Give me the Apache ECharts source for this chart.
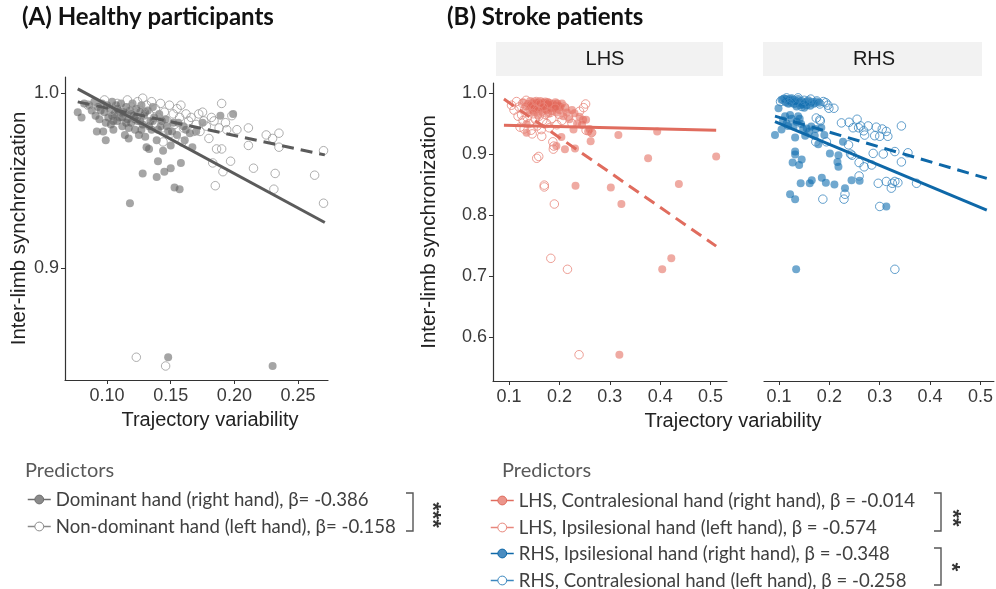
<!DOCTYPE html>
<html>
<head>
<meta charset="utf-8">
<script src="https://cdn.jsdelivr.net/npm/echarts@6/dist/echarts.min.js"></script>
<style>
  html, body { margin: 0; padding: 0; background: #fff; }
  #chart { width: 996px; height: 589px; }
</style>
</head>
<body>
<div id="chart"></div>
<script>
// ---- data ----
var healthyXTicks = [0.10, 0.15, 0.20, 0.25];
var healthyYTicks = [0.9, 1.0];
var strokeXTicks = [0.1, 0.2, 0.3, 0.4, 0.5];
var strokeYTicks = [0.6, 0.7, 0.8, 0.9, 1.0];

var legendHealthy = ['Dominant hand (right hand), β= -0.386', 'Non-dominant hand (left hand), β= -0.158'];
var legendStroke = [
  'LHS, Contralesional hand (right hand), β = -0.014',
  'LHS, Ipsilesional hand (left hand), β = -0.574',
  'RHS, Ipsilesional hand (right hand), β = -0.348',
  'RHS, Contralesional hand (left hand), β = -0.258'
];

// healthy, dominant hand (filled)
var healthyDom = [
  [0.077,0.989],[0.080,0.986],[0.082,0.994],[0.086,0.993],[0.088,0.990],[0.090,0.995],[0.091,0.987],[0.092,0.978],
  [0.093,0.992],[0.094,0.985],[0.096,0.994],[0.097,0.978],[0.098,0.989],[0.099,0.973],[0.100,0.993],[0.101,0.986],
  [0.102,0.991],[0.103,0.982],[0.104,0.995],[0.105,0.979],[0.106,0.988],[0.107,0.993],[0.108,0.984],[0.109,0.990],
  [0.110,0.986],[0.111,0.994],[0.112,0.981],[0.113,0.989],[0.114,0.976],[0.115,0.992],[0.116,0.985],[0.117,0.974],
  [0.118,0.990],[0.118,0.937],[0.119,0.983],[0.120,0.994],[0.121,0.987],[0.122,0.979],[0.123,0.991],[0.124,0.984],
  [0.125,0.976],[0.126,0.989],[0.127,0.993],[0.128,0.954],[0.128,0.982],[0.129,0.987],[0.130,0.975],[0.131,0.969],
  [0.132,0.990],[0.133,0.968],[0.134,0.984],[0.135,0.979],[0.136,0.992],[0.137,0.986],[0.139,0.973],[0.139,0.952],
  [0.140,0.961],[0.141,0.988],[0.142,0.981],[0.144,0.967],[0.145,0.955],[0.146,0.985],[0.148,0.849],[0.148,0.978],
  [0.150,0.970],[0.150,0.957],[0.152,0.983],[0.153,0.946],[0.155,0.976],[0.157,0.945],[0.158,0.960],[0.160,0.981],
  [0.161,0.973],[0.165,0.977],[0.167,0.969],[0.175,0.983],[0.189,0.987],[0.199,0.988],[0.230,0.844],
  [0.095,0.990],[0.099,0.983],[0.104,0.987],[0.108,0.991],[0.112,0.986],[0.115,0.983],[0.119,0.988],[0.122,0.985],
  [0.126,0.984],[0.130,0.989],[0.133,0.981],[0.136,0.984],[0.140,0.979],[0.143,0.984],[0.147,0.981],[0.151,0.978],
  [0.156,0.983],[0.162,0.979],[0.170,0.978],[0.105,0.984],[0.117,0.980],[0.127,0.979]
];
// healthy, non-dominant hand (open)
var healthyNonDom = [
  [0.085,0.993],[0.092,0.991],[0.098,0.996],[0.103,0.990],[0.108,0.994],[0.112,0.988],[0.116,0.996],[0.119,0.992],
  [0.122,0.986],[0.124,0.995],[0.126,0.990],[0.128,0.997],[0.130,0.984],[0.131,0.993],[0.133,0.988],[0.135,0.995],
  [0.137,0.982],[0.138,0.991],[0.140,0.986],[0.142,0.994],[0.143,0.980],[0.144,0.972],[0.145,0.989],[0.146,0.844],
  [0.147,0.984],[0.149,0.993],[0.150,0.977],[0.152,0.988],[0.153,0.982],[0.155,0.991],[0.157,0.986],[0.158,0.993],
  [0.159,0.972],[0.160,0.980],[0.162,0.988],[0.164,0.984],[0.166,0.986],[0.168,0.978],[0.170,0.982],[0.172,0.988],
  [0.173,0.978],[0.175,0.989],[0.176,0.984],[0.178,0.981],[0.180,0.974],[0.182,0.986],[0.183,0.960],[0.184,0.984],
  [0.185,0.947],[0.186,0.968],[0.188,0.980],[0.190,0.968],[0.190,0.994],[0.191,0.955],[0.193,0.983],[0.194,0.979],
  [0.197,0.961],[0.198,0.987],[0.202,0.979],[0.211,0.970],[0.211,0.980],[0.215,0.957],[0.225,0.976],[0.230,0.974],
  [0.231,0.945],[0.232,0.954],[0.235,0.977],[0.235,0.969],[0.123,0.849],[0.263,0.953],[0.270,0.967],[0.270,0.937]
];
// LHS, contralesional hand (filled)
var lhsContra = [
  [0.128,0.985],[0.133,0.978],[0.135,0.949],[0.135,0.935],[0.138,0.982],[0.140,0.972],[0.142,0.987],[0.145,0.976],
  [0.147,0.983],[0.149,0.968],[0.150,0.986],[0.152,0.979],[0.154,0.973],[0.156,0.985],[0.158,0.963],[0.160,0.980],
  [0.162,0.987],[0.164,0.975],[0.166,0.969],[0.168,0.984],[0.170,0.978],[0.172,0.986],[0.174,0.972],[0.176,0.981],
  [0.178,0.966],[0.180,0.984],[0.182,0.976],[0.185,0.970],[0.187,0.982],[0.190,0.975],[0.192,0.985],[0.194,0.913],
  [0.195,0.968],[0.198,0.979],[0.200,0.972],[0.204,0.928],[0.205,0.983],[0.208,0.962],[0.211,0.908],[0.212,0.976],
  [0.215,0.968],[0.220,0.957],[0.225,0.972],[0.228,0.940],[0.230,0.967],[0.231,0.909],[0.232,0.848],[0.235,0.950],
  [0.240,0.961],[0.245,0.948],[0.247,0.956],[0.253,0.956],[0.257,0.937],[0.260,0.941],[0.262,0.921],[0.264,0.935],
  [0.302,0.845],[0.317,0.931],[0.319,0.571],[0.323,0.818],[0.376,0.893],[0.394,0.937],[0.404,0.711],[0.422,0.729],
  [0.437,0.851],[0.511,0.896],
  [0.143,0.980],[0.151,0.975],[0.159,0.984],[0.163,0.978],[0.167,0.982],[0.171,0.974],[0.177,0.985],[0.183,0.980],
  [0.189,0.978],[0.196,0.983],[0.202,0.977],[0.148,0.971],[0.157,0.977]
];
// LHS, ipsilesional hand (open)
var lhsIpsi = [
  [0.105,0.980],[0.110,0.972],[0.115,0.986],[0.118,0.962],[0.120,0.977],[0.122,0.944],[0.125,0.964],[0.127,0.983],
  [0.128,0.955],[0.130,0.941],[0.132,0.974],[0.134,0.988],[0.136,0.960],[0.138,0.969],[0.140,0.950],[0.142,0.980],
  [0.144,0.939],[0.146,0.933],[0.148,0.966],[0.150,0.975],[0.152,0.957],[0.154,0.986],[0.155,0.893],[0.156,0.946],
  [0.158,0.971],[0.159,0.896],[0.160,0.962],[0.162,0.983],[0.164,0.940],[0.165,0.929],[0.167,0.955],[0.168,0.977],
  [0.170,0.846],[0.170,0.849],[0.172,0.965],[0.175,0.950],[0.178,0.983],[0.180,0.943],[0.182,0.968],[0.183,0.729],
  [0.185,0.958],[0.187,0.920],[0.188,0.908],[0.189,0.913],[0.190,0.818],[0.192,0.975],[0.195,0.948],[0.200,0.965],
  [0.205,0.955],[0.210,0.977],[0.216,0.711],[0.218,0.962],[0.225,0.950],[0.239,0.571],[0.240,0.970],[0.248,0.976],
  [0.252,0.982],[0.253,0.939],[0.264,0.935]
];
// RHS, ipsilesional hand (filled)
var rhsIpsi = [
  [0.105,0.989],[0.110,0.991],[0.113,0.985],[0.115,0.990],[0.118,0.983],[0.120,0.988],[0.123,0.991],[0.125,0.984],
  [0.128,0.989],[0.130,0.982],[0.133,0.987],[0.135,0.978],[0.138,0.990],[0.140,0.984],[0.142,0.980],[0.145,0.987],
  [0.148,0.981],[0.150,0.976],[0.152,0.985],[0.155,0.980],[0.158,0.988],[0.162,0.979],[0.165,0.985],[0.170,0.983],
  [0.175,0.986],[0.180,0.984],[0.099,0.975],[0.092,0.931],[0.105,0.940],[0.108,0.955],[0.112,0.962],[0.115,0.950],
  [0.118,0.946],[0.122,0.964],[0.125,0.958],[0.129,0.945],[0.132,0.927],[0.135,0.953],[0.138,0.962],[0.141,0.958],
  [0.144,0.949],[0.148,0.941],[0.152,0.930],[0.155,0.942],[0.160,0.937],[0.164,0.945],[0.171,0.930],[0.173,0.941],
  [0.178,0.916],[0.184,0.943],[0.190,0.931],[0.201,0.901],[0.216,0.887],[0.218,0.879],[0.218,0.898],[0.227,0.920],
  [0.132,0.904],[0.132,0.899],[0.127,0.886],[0.140,0.882],[0.145,0.891],[0.143,0.852],[0.161,0.852],[0.165,0.857],
  [0.185,0.861],[0.193,0.853],[0.210,0.850],[0.122,0.834],[0.132,0.826],[0.134,0.711],[0.231,0.844],[0.244,0.857],
  [0.260,0.856],[0.313,0.814]
];
// RHS, contralesional hand (open)
var rhsContra = [
  [0.103,0.986],[0.109,0.989],[0.115,0.992],[0.120,0.984],[0.126,0.990],[0.132,0.986],[0.138,0.992],[0.145,0.978],
  [0.150,0.988],[0.158,0.984],[0.163,0.990],[0.169,0.984],[0.175,0.987],[0.181,0.982],[0.188,0.986],[0.193,0.984],
  [0.197,0.980],[0.199,0.975],[0.209,0.975],[0.174,0.959],[0.181,0.956],[0.182,0.954],[0.173,0.920],[0.194,0.920],
  [0.224,0.951],[0.239,0.952],[0.255,0.957],[0.247,0.943],[0.258,0.943],[0.238,0.915],[0.242,0.900],[0.245,0.898],
  [0.259,0.886],[0.259,0.864],[0.269,0.879],[0.270,0.931],[0.277,0.946],[0.284,0.882],[0.287,0.901],[0.290,0.930],
  [0.293,0.944],[0.300,0.929],[0.300,0.814],[0.297,0.852],[0.307,0.900],[0.313,0.855],[0.313,0.937],[0.316,0.929],
  [0.323,0.844],[0.325,0.852],[0.330,0.855],[0.330,0.904],[0.336,0.853],[0.343,0.887],[0.343,0.946],[0.356,0.902],
  [0.373,0.852],[0.330,0.711],[0.187,0.826],[0.229,0.826],[0.231,0.834],[0.262,0.946],[0.268,0.938],[0.305,0.941]
];

// fitted lines (end points)
var fitHealthyDom = [[0.077, 1.0023], [0.271, 0.926]];
var fitHealthyNonDom = [[0.077, 0.9949], [0.271, 0.9646]];
var fitLhsContra = [[0.090, 0.947], [0.511, 0.939]];
var fitLhsIpsi = [[0.090, 0.990], [0.511, 0.749]];
var fitRhsIpsi = [[0.092, 0.953], [0.5125, 0.808]];
var fitRhsContra = [[0.092, 0.962], [0.5125, 0.860]];

// ---- styles ----
var AX = '#333333';
var TXT = 'Liberation Sans, Arial, sans-serif';
var LEG = 'Lato, sans-serif';
var grayLine = '#5b5b5b', grayFill = 'rgba(95,95,95,0.7)', grayRing = '#9a9a9a';
var redLine = '#e06c5e', redFill = 'rgba(226,104,90,0.7)', redRing = '#e8877c';
var blueLine = '#0e68a8', blueFill = 'rgba(16,110,175,0.75)', blueRing = '#3b87bf';

function xAxisOf(grid, min, max, ticks, dec) {
  return {
    type: 'value', gridIndex: grid, min: min, max: max,
    splitLine: { show: false },
    axisLine: { show: true, onZero: false, lineStyle: { color: AX, width: 1.2 } },
    axisTick: { show: true, customValues: ticks, length: 4, lineStyle: { color: AX } },
    axisLabel: { customValues: ticks, margin: 7, color: '#3a3a3a', fontFamily: TXT, fontSize: 18,
      formatter: function (v) { return v.toFixed(dec); } }
  };
}
function yAxisOf(grid, min, max, ticks, show) {
  return {
    type: 'value', gridIndex: grid, min: min, max: max,
    splitLine: { show: false },
    axisLine: { show: show, onZero: false, lineStyle: { color: AX, width: 1.2 } },
    axisTick: { show: show, customValues: ticks, length: 4, lineStyle: { color: AX } },
    axisLabel: { show: show, customValues: ticks, margin: 6, color: '#3a3a3a', fontFamily: TXT, fontSize: 18,
      formatter: function (v) { return v.toFixed(1); } }
  };
}
function dots(data, xi, fill, ring) {
  var s = { type: 'scatter', xAxisIndex: xi, yAxisIndex: xi, data: data, silent: true, z: 2 };
  if (ring) {
    s.symbolSize = 8.5;
    s.itemStyle = { color: 'rgba(255,255,255,0)', borderColor: ring, borderWidth: 1 };
  } else {
    s.symbolSize = 8;
    s.itemStyle = { color: fill };
  }
  return s;
}
function fit(name, data, xi, color, dashed) {
  return {
    type: 'line', name: name, xAxisIndex: xi, yAxisIndex: xi, data: data, silent: true, z: 5,
    showSymbol: false, symbol: 'circle',
    itemStyle: { color: color },
    lineStyle: { color: color, width: 3, type: dashed ? [12, 7] : 'solid' }
  };
}
function legendItem(name, color, fill, open) {
  return {
    name: name,
    itemStyle: open ? { color: '#ffffff', borderColor: color, borderWidth: 1 }
                    : { color: fill, borderColor: color, borderWidth: 1 },
    lineStyle: { color: color, width: 1.5, type: [40, 0] }
  };
}
function legendBox(left, top, items) {
  return {
    left: left, top: top, height: 70, orient: 'vertical', padding: 0, itemWidth: 23, itemHeight: 11, itemGap: 8,
    selectedMode: false, data: items,
    textStyle: { color: '#404040', fontFamily: LEG, fontSize: 18.6, lineHeight: 18 }
  };
}

var chart = echarts.init(document.getElementById('chart'));
chart.setOption({
  animation: false,
  backgroundColor: '#ffffff',
  grid: [
    { left: 65, top: 77, width: 263, height: 303 },
    { left: 493, top: 83, width: 234, height: 298 },
    { left: 764, top: 83, width: 230, height: 298 }
  ],
  xAxis: [
    Object.assign(xAxisOf(0, 0.067, 0.2735, healthyXTicks, 2), {
      name: 'Trajectory variability', nameLocation: 'middle', nameGap: 30,
      nameTextStyle: { color: '#222', fontFamily: TXT, fontSize: 20, padding: [0, 0, 0, 27] }
    }),
    xAxisOf(1, 0.0683, 0.5325, strokeXTicks, 1),
    xAxisOf(2, 0.0702, 0.5266, strokeXTicks, 1)
  ],
  yAxis: [
    Object.assign(yAxisOf(0, 0.836, 1.0091, healthyYTicks, true), {
      name: 'Inter-limb synchronization', nameLocation: 'middle', nameGap: 35,
      nameTextStyle: { color: '#222', fontFamily: TXT, fontSize: 20.5 }
    }),
    Object.assign(yAxisOf(1, 0.5279, 1.0164, strokeYTicks, true), {
      name: 'Inter-limb synchronization', nameLocation: 'middle', nameGap: 53,
      nameTextStyle: { color: '#222', fontFamily: TXT, fontSize: 20.5 }
    }),
    yAxisOf(2, 0.5279, 1.0164, strokeYTicks, false)
  ],
  legend: [
    legendBox(27, 490, [
      legendItem(legendHealthy[0], '#6e6e6e', '#8a8a8a', false),
      legendItem(legendHealthy[1], '#8a8a8a', '#fff', true)
    ]),
    legendBox(490, 491, [
      legendItem(legendStroke[0], redLine, '#eb958b', false),
      legendItem(legendStroke[1], redRing, '#fff', true)
    ]),
    legendBox(490, 544, [
      legendItem(legendStroke[2], blueLine, '#4a8cc0', false),
      legendItem(legendStroke[3], blueRing, '#fff', true)
    ])
  ],
  graphic: [
    { type: 'text', left: 22, top: 5, style: { text: '(A) Healthy participants', fill: '#111', font: 'bold 24px Lato, sans-serif' } },
    { type: 'text', left: 447, top: 5, style: { text: '(B) Stroke patients', fill: '#111', font: 'bold 24px Lato, sans-serif' } },
    { type: 'rect', shape: { x: 496, y: 42, width: 227, height: 34 }, style: { fill: '#f2f2f2' } },
    { type: 'rect', shape: { x: 763, y: 42, width: 219, height: 34 }, style: { fill: '#f2f2f2' } },
    { type: 'text', x: 605, y: 59, style: { text: 'LHS', fill: '#1a1a1a', font: '20px Liberation Sans, Arial, sans-serif', align: 'center', verticalAlign: 'middle' } },
    { type: 'text', x: 874, y: 59, style: { text: 'RHS', fill: '#1a1a1a', font: '20px Liberation Sans, Arial, sans-serif', align: 'center', verticalAlign: 'middle' } },
    { type: 'text', x: 733, y: 421, style: { text: 'Trajectory variability', fill: '#222', font: '20px Liberation Sans, Arial, sans-serif', align: 'center', verticalAlign: 'middle' } },
    { type: 'text', x: 25, y: 471, style: { text: 'Predictors', fill: '#595959', font: '20px Lato, sans-serif', verticalAlign: 'middle' } },
    { type: 'text', x: 502, y: 471, style: { text: 'Predictors', fill: '#595959', font: '20px Lato, sans-serif', verticalAlign: 'middle' } },
    { type: 'polyline', shape: { points: [[406, 493], [413, 493], [413, 531], [406, 531]] }, style: { stroke: '#555', lineWidth: 1.4, fill: null } },
    { type: 'text', x: 432, y: 515, rotation: -Math.PI / 2, style: { text: '***', fill: '#333', font: 'bold 22px Liberation Sans, Arial, sans-serif', align: 'center', verticalAlign: 'middle' } },
    { type: 'polyline', shape: { points: [[934, 493], [941, 493], [941, 531], [934, 531]] }, style: { stroke: '#555', lineWidth: 1.4, fill: null } },
    { type: 'text', x: 952, y: 518, rotation: -Math.PI / 2, style: { text: '**', fill: '#333', font: 'bold 22px Liberation Sans, Arial, sans-serif', align: 'center', verticalAlign: 'middle' } },
    { type: 'polyline', shape: { points: [[934, 548], [941, 548], [941, 585], [934, 585]] }, style: { stroke: '#555', lineWidth: 1.4, fill: null } },
    { type: 'text', x: 951, y: 567, rotation: -Math.PI / 2, style: { text: '*', fill: '#333', font: 'bold 22px Liberation Sans, Arial, sans-serif', align: 'center', verticalAlign: 'middle' } }
  ],
  series: [
    dots(healthyDom, 0, grayFill, null),
    dots(healthyNonDom, 0, null, grayRing),
    dots(lhsContra, 1, redFill, null),
    dots(lhsIpsi, 1, null, redRing),
    dots(rhsIpsi, 2, blueFill, null),
    dots(rhsContra, 2, null, blueRing),
    fit(legendHealthy[0], fitHealthyDom, 0, grayLine, false),
    fit(legendHealthy[1], fitHealthyNonDom, 0, grayLine, true),
    fit(legendStroke[0], fitLhsContra, 1, redLine, false),
    fit(legendStroke[1], fitLhsIpsi, 1, redLine, true),
    fit(legendStroke[2], fitRhsIpsi, 2, blueLine, false),
    fit(legendStroke[3], fitRhsContra, 2, blueLine, true)
  ]
});
</script>
</body>
</html>
